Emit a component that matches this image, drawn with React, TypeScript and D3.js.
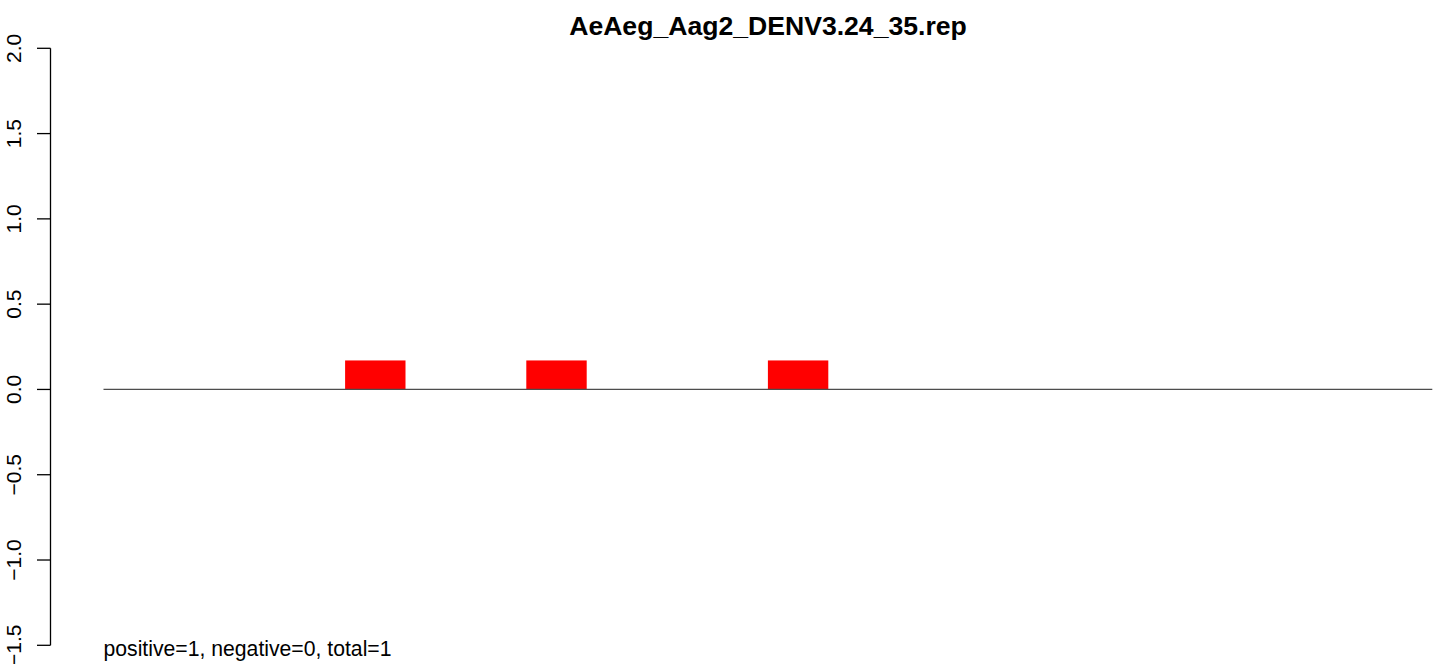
import React from "react";
import * as d3 from "d3";

const title = "AeAeg_Aag2_DENV3.24_35.rep";
const footer = "positive=1, negative=0, total=1";
const categories: number[] = Array.from({ length: 22 }, (_, i) => i);
const values: number[] = [0, 0, 0, 0, 0.17, 0, 0, 0.17, 0, 0, 0, 0.17, 0, 0, 0, 0, 0, 0, 0, 0, 0, 0];
const yTicks: number[] = [-1.5, -1.0, -0.5, 0.0, 0.5, 1.0, 1.5, 2.0];

const W = 1439;
const H = 664;

export default function App() {
  const x = d3.scaleBand<number>().domain(categories).range([103.5, 1432.3]).padding(0);
  const y = d3.scaleLinear().domain([-1.5, 2]).range([645.3, 48.3]);
  const font = "'Liberation Sans', Arial, Helvetica, sans-serif";
  const axisX = 50.5;
  return (
    <svg
      width={W}
      height={H}
      style={{ position: "absolute", left: 0, top: 0, background: "#fff" }}
      fontFamily={font}
    >
      <text x={768} y={35} textAnchor="middle" fontWeight="bold" fontSize={26.6}>
        {title}
      </text>
      {values.map((v, i) =>
        v > 0 ? (
          <rect
            key={i}
            x={x(categories[i])!}
            y={y(v)}
            width={x.bandwidth()}
            height={y(0) - y(v)}
            fill="#ff0000"
          />
        ) : null
      )}
      <line x1={x.range()[0]} x2={x.range()[1]} y1={y(0)} y2={y(0)} stroke="#4d4d4d" strokeWidth={1.2} />
      <line x1={axisX} x2={axisX} y1={y(2)} y2={y(-1.5)} stroke="#000" strokeWidth={1.3} />
      {yTicks.map((t) => (
        <g key={t}>
          <line x1={37} x2={axisX} y1={y(t)} y2={y(t)} stroke="#000" strokeWidth={1.3} />
          <text
            transform={`translate(21,${y(t)}) rotate(-90)`}
            textAnchor="middle"
            fontSize={21}
          >
            {d3.format(".1f")(t).replace("-", "\u2212")}
          </text>
        </g>
      ))}
      <text x={103.5} y={656} fontSize={21.2}>
        {footer}
      </text>
    </svg>
  );
}
